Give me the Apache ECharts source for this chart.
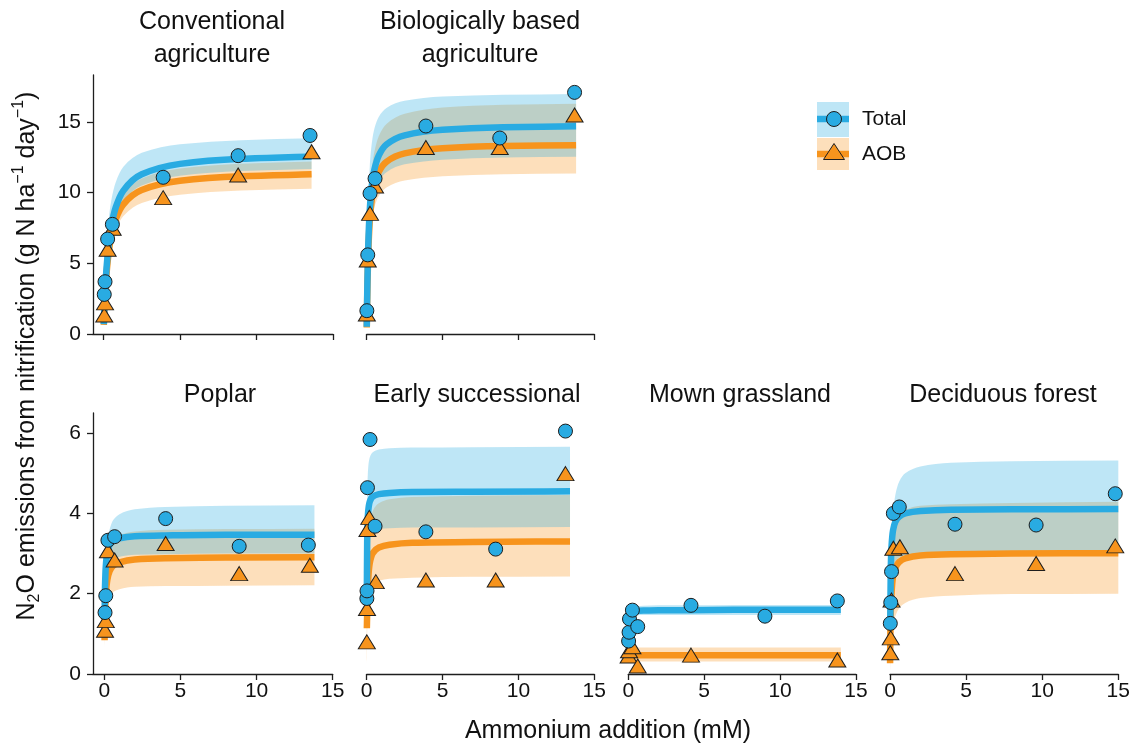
<!DOCTYPE html>
<html><head><meta charset="utf-8">
<script src="https://cdn.jsdelivr.net/npm/echarts@6/dist/echarts.min.js"></script>
<style>html,body{margin:0;padding:0;background:#fff}#c{width:1137px;height:746px}</style>
</head><body><div id="c"></div>
<script>
// ---------------- data ----------------
const panelTitles = [
  ['Conventional', 'agriculture'],
  ['Biologically based', 'agriculture'],
  ['Poplar'],
  ['Early successional'],
  ['Mown grassland'],
  ['Deciduous forest']
];
const xTicks = [0, 5, 10, 15];
const yTicksTop = [0, 5, 10, 15];
const yTicksBottom = [0, 2, 4, 6];

// fitted curve sample positions (mM), one row per panel
const curveX = [
  [0.02, 0.05, 0.1, 0.2, 0.35, 0.5, 0.8, 1.3, 2.5, 5, 9, 13.6],
  [0.005, 0.02, 0.05, 0.1, 0.2, 0.35, 0.5, 0.8, 1.3, 2.5, 5, 9, 13.8],
  [0.02, 0.05, 0.1, 0.2, 0.35, 0.6, 1, 2, 4, 8, 13.8],
  [0.003, 0.01, 0.03, 0.06, 0.1, 0.2, 0.4, 0.8, 1.5, 3, 7, 13.4],
  [0.02, 0.2, 0.5, 1, 2, 4, 7, 10, 14],
  [0.005, 0.02, 0.05, 0.1, 0.2, 0.35, 0.6, 1, 2, 4, 8, 15]
];
const totalFit = [
  [0.70, 1.61, 2.86, 4.69, 6.44, 7.58, 8.96, 10.15, 11.30, 12.04, 12.40, 12.56],
  [0.51, 1.86, 3.91, 6.19, 8.73, 10.60, 11.60, 12.64, 13.41, 14.06, 14.45, 14.63, 14.70],
  [1.39, 2.18, 2.68, 3.03, 3.21, 3.31, 3.38, 3.43, 3.45, 3.47, 3.47],
  [null, 2.07, 3.25, 3.79, 4.06, 4.29, 4.42, 4.48, 4.51, 4.53, 4.54, 4.55],
  [null, 1.55, 1.57, 1.58, 1.59, 1.59, 1.60, 1.60, 1.60],
  [null, 1.40, 2.58, 3.17, 3.58, 3.79, 3.92, 4.00, 4.06, 4.09, 4.10, 4.11]
];
const totalLo = [
  [0.65, 1.50, 2.66, 4.36, 5.99, 7.05, 8.33, 9.44, 10.51, 11.20, 11.53, 11.68],
  [0.44, 1.59, 3.34, 5.29, 7.46, 9.05, 9.91, 10.79, 11.45, 12.01, 12.34, 12.49, 12.55],
  [1.20, 1.89, 2.32, 2.62, 2.78, 2.86, 2.92, 2.97, 2.98, 3.00, 3.00],
  [0.73, 1.67, 2.62, 3.05, 3.27, 3.45, 3.56, 3.61, 3.63, 3.65, 3.65, 3.66],
  [1.35, 1.44, 1.46, 1.47, 1.47, 1.47, 1.47, 1.47, 1.47],
  [0.44, 1.22, 1.91, 2.35, 2.65, 2.80, 2.90, 2.96, 3.00, 3.03, 3.03, 3.04]
];
const totalHi = [
  [1.04, 2.35, 4.03, 6.26, 8.22, 9.40, 10.74, 11.83, 12.82, 13.43, 13.72, 13.85],
  [0.90, 3.11, 6.11, 9.00, 11.80, 13.60, 14.50, 15.37, 15.99, 16.50, 16.80, 16.93, 16.99],
  [1.46, 2.29, 2.81, 3.25, 3.60, 3.84, 3.98, 4.10, 4.16, 4.19, 4.20],
  [1.31, 2.83, 4.25, 4.85, 5.15, 5.39, 5.52, 5.59, 5.62, 5.64, 5.65, 5.66],
  [1.55, 1.66, 1.69, 1.70, 1.71, 1.71, 1.72, 1.72, 1.72],
  [0.62, 1.73, 2.71, 3.33, 3.96, 4.46, 4.79, 5.00, 5.17, 5.26, 5.30, 5.32]
];
const aobFit = [
  [0.64, 1.48, 2.63, 4.28, 5.87, 6.89, 8.13, 9.18, 10.19, 10.84, 11.16, 11.30],
  [0.46, 1.69, 3.55, 5.63, 7.94, 9.64, 10.54, 11.49, 12.19, 12.78, 13.14, 13.30, 13.36],
  [0.84, 1.46, 1.95, 2.34, 2.56, 2.70, 2.78, 2.85, 2.88, 2.90, 2.91],
  [null, 1.14, 1.50, 1.99, 2.36, 2.76, 3.01, 3.15, 3.22, 3.27, 3.29, 3.30],
  [0.45, 0.46, 0.47, 0.47, 0.47, 0.47, 0.47, 0.47, 0.47],
  [0.27, 0.86, 1.51, 2.01, 2.42, 2.64, 2.79, 2.88, 2.95, 2.98, 3.00, 3.01]
];
const aobLo = [
  [0.58, 1.35, 2.39, 3.89, 5.34, 6.27, 7.40, 8.35, 9.27, 9.86, 10.16, 10.28],
  [0.39, 1.44, 3.02, 4.79, 6.75, 8.19, 8.96, 9.77, 10.36, 10.86, 11.17, 11.31, 11.36],
  [0.64, 1.11, 1.48, 1.78, 1.95, 2.05, 2.11, 2.17, 2.19, 2.20, 2.21],
  [0.17, 0.49, 1.04, 1.46, 1.73, 2.03, 2.21, 2.32, 2.37, 2.40, 2.42, 2.43],
  [0.29, 0.30, 0.31, 0.31, 0.31, 0.31, 0.31, 0.31, 0.31],
  [0.07, 0.25, 0.53, 0.84, 1.19, 1.44, 1.64, 1.77, 1.89, 1.95, 1.99, 2.00]
];
const aobHi = [
  [0.69, 1.60, 2.84, 4.62, 6.34, 7.44, 8.78, 9.91, 11.01, 11.71, 12.05, 12.20],
  [0.56, 2.06, 4.33, 6.87, 9.69, 11.76, 12.86, 14.02, 14.87, 15.59, 16.03, 16.23, 16.30],
  [1.05, 1.82, 2.43, 2.91, 3.19, 3.36, 3.46, 3.55, 3.59, 3.61, 3.62],
  [0.31, 1.40, 2.10, 2.69, 3.19, 3.73, 4.06, 4.25, 4.35, 4.41, 4.44, 4.46],
  [0.62, 0.65, 0.66, 0.66, 0.66, 0.66, 0.66, 0.66, 0.66],
  [0.39, 1.22, 2.14, 2.85, 3.44, 3.75, 3.96, 4.09, 4.19, 4.23, 4.26, 4.29]
];
// measured points
const totalPtX = [
  [0.05, 0.1, 0.27, 0.58, 3.9, 8.8, 13.5],
  [0.01, 0.07, 0.22, 0.55, 3.9, 8.77, 13.7],
  [0.05, 0.1, 0.24, 0.68, 4.03, 8.86, 13.4],
  [0.01, 0.02, 0.05, 0.22, 0.55, 3.9, 8.5, 13.1],
  [0.02, 0.05, 0.08, 0.27, 0.62, 4.13, 9.0, 13.77],
  [0.02, 0.05, 0.1, 0.22, 0.61, 4.27, 9.6, 14.8]
];
const totalPtY = [
  [2.8, 3.7, 6.72, 7.76, 11.09, 12.62, 14.05],
  [1.65, 5.6, 9.95, 11.0, 14.72, 13.87, 17.1],
  [1.53, 1.95, 3.33, 3.42, 3.87, 3.18, 3.21],
  [1.88, 2.07, 4.64, 5.84, 3.68, 3.54, 3.11, 6.05],
  [0.82, 1.04, 1.37, 1.59, 1.18, 1.71, 1.44, 1.82],
  [1.26, 1.78, 2.55, 4.0, 4.16, 3.73, 3.71, 4.49]
];
const aobPtX = [
  [0.05, 0.1, 0.27, 0.6, 3.9, 8.8, 13.6],
  [0.01, 0.07, 0.22, 0.55, 3.9, 8.77, 13.7],
  [0.05, 0.1, 0.24, 0.68, 4.03, 8.86, 13.5],
  [0.01, 0.02, 0.05, 0.17, 0.6, 3.9, 8.5, 13.1],
  [0.02, 0.05, 0.27, 0.62, 4.13, 13.77],
  [0.02, 0.05, 0.1, 0.22, 0.65, 4.27, 9.6, 14.8]
];
const aobPtY = [
  [1.35, 2.2, 6.0, 7.48, 9.65, 11.25, 12.9],
  [1.42, 5.24, 8.54, 10.47, 13.2, 13.2, 15.5],
  [1.09, 1.33, 3.07, 2.84, 3.25, 2.5, 2.71],
  [0.8, 1.63, 3.6, 3.9, 2.3, 2.34, 2.34, 4.99],
  [0.45, 0.58, 0.68, 0.2, 0.47, 0.35],
  [0.53, 0.9, 1.84, 3.13, 3.17, 2.5, 2.75, 3.19]
];
const legendLabels = ['Total', 'AOB'];
const xAxisTitle = 'Ammonium addition (mM)';

// ---------------- layout / style ----------------
const FONT = '"Liberation Sans", Arial, Helvetica, sans-serif';
const BLUE = '#29abe2', ORANGE = '#f7941d', INK = '#1e1e1e', TXT = '#111';
const layout = [
  {left: 93,    top: 75,  width: 240,   height: 259, xmin: -0.686, ymax: 18.33, yaxis: true,  xlabels: false, yt: yTicksTop,    tx: 212},
  {left: 366.7, top: 75,  width: 227.6, height: 259, xmin: 0,      ymax: 18.33, yaxis: false, xlabels: false, yt: yTicksTop,    tx: 480},
  {left: 93,    top: 413, width: 239.7, height: 261, xmin: -0.74,  ymax: 6.5,   yaxis: true,  xlabels: true,  yt: yTicksBottom, tx: 220},
  {left: 366.7, top: 413, width: 227.6, height: 261, xmin: 0,      ymax: 6.5,   yaxis: false, xlabels: true,  yt: yTicksBottom, tx: 477},
  {left: 628.3, top: 413, width: 227.7, height: 261, xmin: 0,      ymax: 6.5,   yaxis: false, xlabels: true,  yt: yTicksBottom, tx: 740},
  {left: 890,   top: 413, width: 228.3, height: 261, xmin: 0,      ymax: 6.5,   yaxis: false, xlabels: true,  yt: yTicksBottom, tx: 1003}
];

function pairs(xs, ys) {
  return xs.map((x, i) => [x, ys[i]]).filter(p => p[1] != null);
}

// shape-preserving (PCHIP) cubic segments through pixel points
function monoSegs(pts) {
  const n = pts.length, segs = [];
  if (n < 2) return segs;
  const h = [], d = [], m = [];
  for (let k = 0; k < n - 1; k++) {
    h[k] = Math.max(pts[k + 1][0] - pts[k][0], 1e-6);
    d[k] = (pts[k + 1][1] - pts[k][1]) / h[k];
  }
  m[0] = d[0]; m[n - 1] = d[n - 2];
  for (let k = 1; k < n - 1; k++) {
    if (d[k - 1] * d[k] <= 0) m[k] = 0;
    else {
      const w1 = 2 * h[k] + h[k - 1], w2 = h[k] + 2 * h[k - 1];
      m[k] = (w1 + w2) / (w1 / d[k - 1] + w2 / d[k]);
    }
  }
  for (let k = 0; k < n - 1; k++) {
    const p0 = pts[k], p1 = pts[k + 1];
    segs.push([[p0[0] + h[k] / 3, p0[1] + m[k] * h[k] / 3],
               [p1[0] - h[k] / 3, p1[1] - m[k + 1] * h[k] / 3], p1]);
  }
  return segs;
}
const fp = p => p[0].toFixed(2) + ' ' + p[1].toFixed(2);

function bandSeries(i, xs, lo, hi, color, z) {
  return {
    type: 'custom', xAxisIndex: i, yAxisIndex: i, z: z, silent: true, clip: false, animation: false,
    data: xs.map((x, j) => [x, lo[j], hi[j]]),
    encode: {x: 0, y: [1, 2]},
    renderItem: function (params, api) {
      if (params.dataIndex !== 0) return null;
      const up = [], dn = [];
      xs.forEach((x, j) => {
        if (lo[j] != null && hi[j] != null) { up.push(api.coord([x, hi[j]])); dn.push(api.coord([x, lo[j]])); }
      });
      const su = monoSegs(up), sd = monoSegs(dn);
      let p = 'M' + fp(up[0]);
      su.forEach(s => { p += ' C' + fp(s[0]) + ' ' + fp(s[1]) + ' ' + fp(s[2]); });
      p += ' L' + fp(dn[dn.length - 1]);
      for (let k = sd.length - 1; k >= 0; k--) {
        const s = sd[k];
        p += ' C' + fp(s[1]) + ' ' + fp(s[0]) + ' ' + fp(dn[k]);
      }
      p += ' Z';
      return {type: 'path', shape: {pathData: p}, style: {fill: color, opacity: 0.3, stroke: null}};
    }
  };
}
function fitSeries(i, xs, ys, color, z) {
  const data = pairs(xs, ys);
  return {
    type: 'custom', xAxisIndex: i, yAxisIndex: i, z: z, silent: true, clip: false, animation: false,
    data: data, encode: {x: 0, y: 1},
    renderItem: function (params, api) {
      if (params.dataIndex !== 0) return null;
      const pts = data.map(p => api.coord(p));
      let p = 'M' + fp(pts[0]);
      monoSegs(pts).forEach(s => { p += ' C' + fp(s[0]) + ' ' + fp(s[1]) + ' ' + fp(s[2]); });
      return {type: 'path', shape: {pathData: p},
        style: {fill: null, stroke: color, lineWidth: 6.5, lineCap: 'butt', lineJoin: 'round'}};
    }
  };
}

const grids = [], xAxes = [], yAxes = [], series = [], graphics = [];

layout.forEach((L, i) => {
  grids.push({left: L.left, top: L.top, width: L.width, height: L.height, containLabel: false, outerBoundsMode: 'none'});
  xAxes.push({
    gridIndex: i, type: 'value', min: L.xmin, max: 15,
    axisLine: {show: true, onZero: false, lineStyle: {color: INK, width: 1.3}},
    axisTick: {show: true, customValues: xTicks, length: 6, lineStyle: {color: INK, width: 1.3}},
    axisLabel: {show: L.xlabels, customValues: xTicks, fontSize: 21, color: TXT, fontFamily: FONT, margin: 7},
    splitLine: {show: false}
  });
  yAxes.push({
    gridIndex: i, type: 'value', min: 0, max: L.ymax, show: L.yaxis,
    axisLine: {show: true, onZero: false, lineStyle: {color: INK, width: 1.3}},
    axisTick: {show: true, customValues: L.yt, length: 6, lineStyle: {color: INK, width: 1.3}},
    axisLabel: {show: true, customValues: L.yt, fontSize: 21, color: TXT, fontFamily: FONT, margin: 12},
    splitLine: {show: false}
  });
  const cx = curveX[i];
  series.push(bandSeries(i, cx, aobLo[i], aobHi[i], ORANGE, 1));
  series.push(bandSeries(i, cx, totalLo[i], totalHi[i], BLUE, 2));
  series.push(fitSeries(i, cx, aobFit[i], ORANGE, 3));
  series.push(fitSeries(i, cx, totalFit[i], BLUE, 4));
  series.push({type: 'scatter', xAxisIndex: i, yAxisIndex: i, z: 5, silent: true, clip: false, animation: false,
    data: pairs(aobPtX[i], aobPtY[i]), symbol: 'triangle', symbolSize: [17, 14],
    itemStyle: {color: ORANGE, borderColor: INK, borderWidth: 1, opacity: 1}});
  series.push({type: 'scatter', xAxisIndex: i, yAxisIndex: i, z: 6, silent: true, clip: false, animation: false,
    data: pairs(totalPtX[i], totalPtY[i]), symbol: 'circle', symbolSize: 14,
    itemStyle: {color: BLUE, borderColor: INK, borderWidth: 1, opacity: 1}});

  const t = panelTitles[i];
  const ty = L.top < 200 ? 22 : 395;
  t.forEach((line, k) => {
    graphics.push({type: 'text', x: L.tx, y: ty + k * 33, silent: true,
      style: {text: line, fontSize: 25, fontFamily: FONT, fill: TXT, align: 'center', verticalAlign: 'middle'}});
  });
});

// axis titles
graphics.push({type: 'text', x: 608, y: 731, silent: true,
  style: {text: xAxisTitle, fontSize: 25, fontFamily: FONT, fill: TXT, align: 'center', verticalAlign: 'middle'}});
graphics.push({type: 'text', x: 27, y: 356, rotation: Math.PI / 2, silent: true,
  style: {text: 'N{sub|2}O emissions from nitrification (g N ha{sup|\u22121} day{sup|\u22121})',
    fontSize: 25, lineHeight: 32, fontFamily: FONT, fill: TXT, align: 'center', verticalAlign: 'middle',
    rich: {
      sub: {fontSize: 16, lineHeight: 16, verticalAlign: 'bottom', fontFamily: FONT, fill: TXT},
      sup: {fontSize: 16, lineHeight: 16, verticalAlign: 'top', fontFamily: FONT, fill: TXT}
    }}});

// legend
graphics.push({type: 'rect', silent: true, shape: {x: 817, y: 102, width: 32, height: 35}, style: {fill: BLUE, opacity: 0.3}});
graphics.push({type: 'rect', silent: true, shape: {x: 817, y: 138, width: 32, height: 32}, style: {fill: ORANGE, opacity: 0.3}});
graphics.push({type: 'line', silent: true, shape: {x1: 817, y1: 119, x2: 849, y2: 119}, style: {stroke: BLUE, lineWidth: 6.5}});
graphics.push({type: 'line', silent: true, shape: {x1: 817, y1: 154, x2: 849, y2: 154}, style: {stroke: ORANGE, lineWidth: 6.5}});
graphics.push({type: 'circle', silent: true, shape: {cx: 834, cy: 119, r: 7.5}, style: {fill: BLUE, stroke: INK, lineWidth: 1}});
graphics.push({type: 'polygon', silent: true, shape: {points: [[834, 143.5], [844.5, 159.5], [823.5, 159.5]]}, style: {fill: ORANGE, stroke: INK, lineWidth: 1}});
graphics.push({type: 'text', x: 862, y: 119, silent: true, style: {text: legendLabels[0], fontSize: 21, fontFamily: FONT, fill: TXT, align: 'left', verticalAlign: 'middle'}});
graphics.push({type: 'text', x: 862, y: 154, silent: true, style: {text: legendLabels[1], fontSize: 21, fontFamily: FONT, fill: TXT, align: 'left', verticalAlign: 'middle'}});

const chart = echarts.init(document.getElementById('c'), null, {renderer: 'canvas'});
chart.setOption({
  animation: false,
  backgroundColor: '#ffffff',
  grid: grids, xAxis: xAxes, yAxis: yAxes, series: series,
  graphic: graphics
});
</script></body></html>
